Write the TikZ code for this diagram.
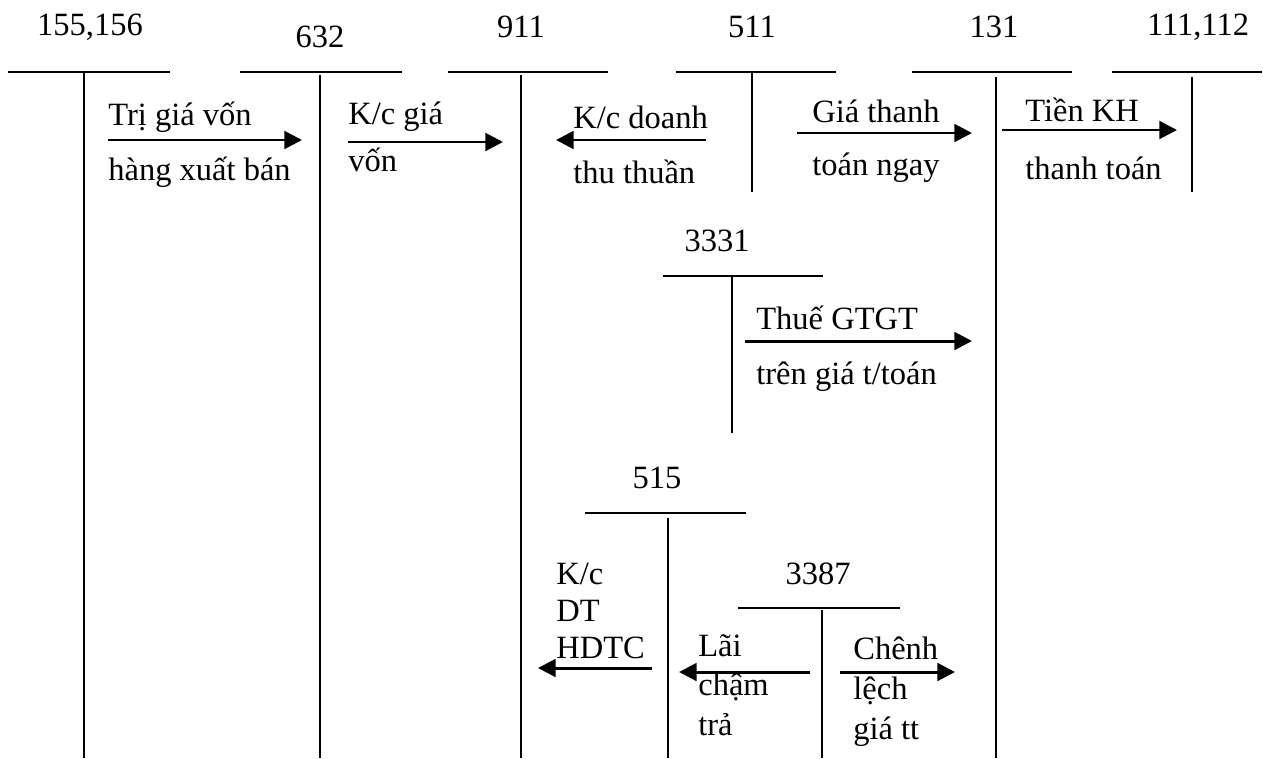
\documentclass[tikz,border=0pt]{standalone}
\usepackage{fontspec}
\setmainfont{Liberation Serif}
\usetikzlibrary{arrows.meta}

\begin{document}
\begin{tikzpicture}[x=0.02cm,y=-0.02cm,
    tline/.style={line width=0.8pt},
    flow/.style={-{Triangle[length=10pt,width=10pt]},line width=1.7pt},
    acc/.style={inner sep=0pt,font=\fontsize{18.5}{22}\selectfont},
    lbl/.style={anchor=west,inner sep=0pt,align=left,font=\fontsize{18.5}{21}\selectfont}
]
    \useasboundingbox (0,0) rectangle (1263,758);
    % T accounts
    \node[acc] (a155) at (90,27) {155,156};
    \draw[tline] (8,72) -- (170,72);
    \draw[tline] (84,72) -- (84,758);
    \node[acc] (a632) at (320,37) {632};
    \draw[tline] (240,72) -- (402,72);
    \draw[tline] (320,75) -- (320,758);
    \node[acc] (a911) at (521,27) {911};
    \draw[tline] (448,72) -- (608,72);
    \draw[tline] (521,75) -- (521,758);
    \node[acc] (a511) at (752,27) {511};
    \draw[tline] (676,72) -- (836,72);
    \draw[tline] (752,72) -- (752,192);
    \node[acc] (a131) at (994,27) {131};
    \draw[tline] (912,72) -- (1072,72);
    \draw[tline] (996,77) -- (996,758);
    \node[acc] (a111) at (1198,27) {111,112};
    \draw[tline] (1112,72) -- (1262,72);
    \draw[tline] (1192,77) -- (1192,192);
    \node[acc] (a3331) at (717,241) {3331};
    \draw[tline] (663,276) -- (823,276);
    \draw[tline] (732,276) -- (732,433);
    \node[acc] (a515) at (657,478) {515};
    \draw[tline] (585,513) -- (746,513);
    \draw[tline] (668,518) -- (668,758);
    \node[acc] (a3387) at (818,574) {3387};
    \draw[tline] (738,608) -- (900,608);
    \draw[tline] (822,610) -- (822,758);

    % arrow ends
    \coordinate (s1) at (108,140);  \coordinate (e1) at (302,140);
    \coordinate (s2) at (348,142);  \coordinate (e2) at (503,142);
    \coordinate (s3) at (706,140);  \coordinate (e3) at (556,140);
    \coordinate (s4) at (797,133);  \coordinate (e4) at (972,133);
    \coordinate (s5) at (1002,130); \coordinate (e5) at (1177,130);
    \coordinate (s6) at (745,341);  \coordinate (e6) at (972,341);
    \coordinate (s7) at (652,668);  \coordinate (e7) at (538,668);
    \coordinate (s8) at (810,672);  \coordinate (e8) at (679,672);
    \coordinate (s9) at (840,672);  \coordinate (e9) at (955,672);
    \draw[flow] (s1) -- (e1);
    \draw[flow] (s2) -- (e2);
    \draw[flow] (s3) -- (e3);
    \draw[flow] (s4) -- (e4);
    \draw[flow] (s5) -- (e5);
    \draw[flow] (s6) -- (e6);
    \draw[flow] (s7) -- (e7);
    \draw[flow] (s8) -- (e8);
    \draw[flow] (s9) -- (e9);

    % labels
    \node[lbl] (t1a) at (108,117) {Trị giá vốn};
    \node[lbl] (t1b) at (108,172) {hàng xuất bán};
    \node[lbl] (t2a) at (348,117) {K/c giá};
    \node[lbl] (t2b) at (348,160) {vốn};
    \node[lbl] (t3a) at (573,117) {K/c doanh};
    \node[lbl] (t3b) at (573,172) {thu thuần};
    \node[lbl,anchor=center] (t4a) at (876,111) {Giá thanh};
    \node[lbl,anchor=center] (t4b) at (876,168) {toán ngay};
    \node[lbl] (t5a) at (1025,110) {Tiền KH};
    \node[lbl] (t5b) at (1025,168) {thanh toán};
    \node[lbl] (t6a) at (756,318) {Thuế GTGT};
    \node[lbl] (t6b) at (756,377) {trên giá t/toán};
    \node[lbl,anchor=north west] (t7) at (556,563) {K/c\\DT\\HDTC};
    \node[lbl,anchor=north west,font=\fontsize{18.5}{22.5}\selectfont] (t8) at (698,634) {Lãi\\chậm\\trả};
    \node[lbl,anchor=north west,font=\fontsize{18.5}{22.5}\selectfont] (t9) at (853,637) {Chênh\\lệch\\giá tt};
\end{tikzpicture}
\end{document}
